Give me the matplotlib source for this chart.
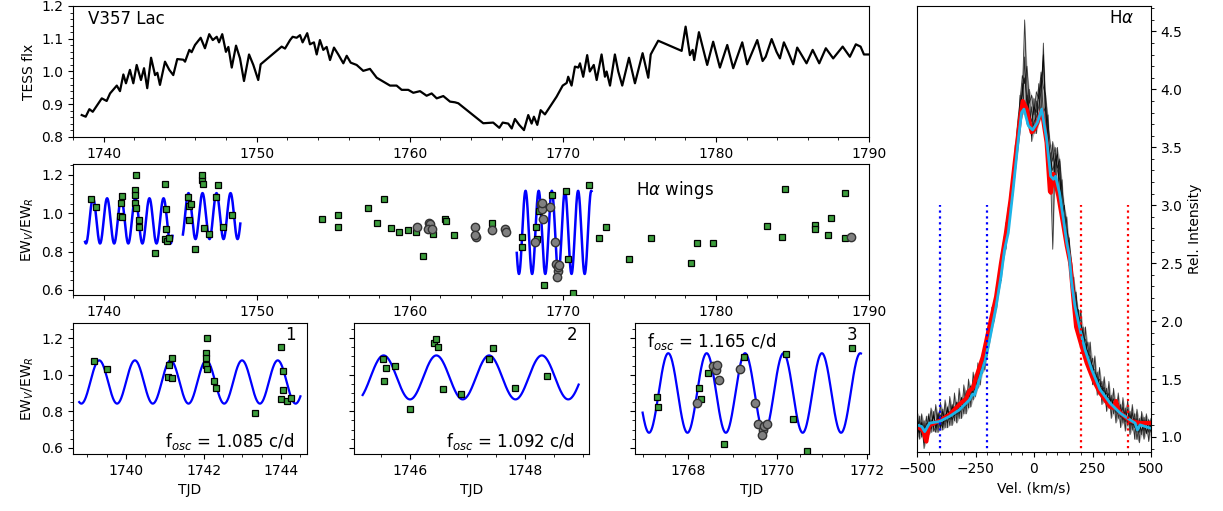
import numpy as np
import matplotlib
matplotlib.use('Agg')
import matplotlib.pyplot as plt
from matplotlib.ticker import MultipleLocator

# TESS light curve (TJD, relative flux)
lc_t = [1738.57, 1738.83, 1739.07, 1739.29, 1739.88, 1740.20, 1740.42, 1740.86, 1741.07, 1741.29,
        1741.46, 1741.72, 1741.94, 1742.16, 1742.44, 1742.64, 1742.85, 1743.10, 1743.36, 1743.51,
        1743.68, 1744.01, 1744.29, 1744.55, 1744.81, 1745.21, 1745.32, 1745.60, 1745.75, 1745.97,
        1746.34, 1746.62, 1746.90, 1747.13, 1747.39, 1747.54, 1747.75, 1747.99, 1748.15, 1748.37,
        1748.65, 1748.91, 1749.17, 1749.50, 1749.78, 1750.10, 1750.26, 1751.63, 1751.85, 1752.18,
        1752.35, 1752.61, 1752.83, 1753.00, 1753.30, 1753.48, 1753.74, 1753.92, 1754.13, 1754.35,
        1754.57, 1754.79, 1755.05, 1755.33, 1755.66, 1755.88, 1756.14, 1756.53, 1756.96, 1757.40,
        1757.84, 1758.27, 1758.71, 1759.14, 1759.47, 1759.90, 1760.23, 1760.67, 1761.10, 1761.43,
        1761.76, 1762.19, 1762.63, 1762.95, 1763.17, 1764.80, 1765.45, 1765.85, 1766.07, 1766.43,
        1766.66, 1766.87, 1767.15, 1767.46, 1767.74, 1767.96, 1768.11, 1768.33, 1768.55, 1768.83,
        1769.27, 1769.59, 1769.99, 1770.25, 1770.35, 1770.57, 1770.79, 1771.01, 1771.12, 1771.33,
        1771.59, 1771.76, 1772.02, 1772.21, 1772.53, 1772.75, 1772.86, 1773.08, 1773.40, 1773.62,
        1773.88, 1774.32, 1774.71, 1775.21, 1775.58, 1775.74, 1775.90, 1776.23, 1777.76, 1778.02,
        1778.30, 1778.48, 1778.58, 1778.89, 1779.43, 1779.82, 1780.26, 1780.74, 1781.13, 1781.72,
        1782.04, 1782.70, 1783.05, 1783.25, 1783.64, 1783.96, 1784.18, 1784.44, 1784.72, 1785.05,
        1785.31, 1785.92, 1786.32, 1786.75, 1787.18, 1787.66, 1788.28, 1788.75, 1789.14, 1789.45,
        1789.67, 1789.95]
lc_f = [0.867, 0.862, 0.885, 0.877, 0.918, 0.910, 0.933, 0.957, 0.940, 0.991,
        0.964, 1.005, 0.964, 1.020, 0.974, 1.010, 0.949, 1.042, 0.989, 0.996,
        0.959, 1.030, 1.005, 0.989, 1.038, 1.036, 1.030, 1.066, 1.059, 1.081,
        1.103, 1.071, 1.114, 1.096, 1.106, 1.089, 1.114, 1.060, 1.075, 1.012,
        1.079, 1.040, 0.971, 1.052, 1.020, 0.974, 1.022, 1.076, 1.070, 1.096,
        1.106, 1.103, 1.111, 1.089, 1.117, 1.083, 1.089, 1.052, 1.096, 1.066,
        1.075, 1.035, 1.073, 1.052, 1.025, 1.048, 1.027, 1.020, 1.002, 1.008,
        0.981, 0.969, 0.957, 0.957, 0.944, 0.944, 0.935, 0.940, 0.926, 0.933,
        0.918, 0.925, 0.908, 0.906, 0.903, 0.842, 0.844, 0.828, 0.844, 0.841,
        0.826, 0.855, 0.837, 0.821, 0.867, 0.841, 0.862, 0.837, 0.882, 0.869,
        0.900, 0.923, 0.957, 0.965, 0.984, 0.957, 1.015, 1.012, 1.025, 0.984,
        1.050, 1.000, 1.020, 0.974, 1.052, 0.984, 1.000, 0.957, 1.052, 1.000,
        0.957, 1.042, 0.964, 1.056, 0.981, 1.052, 1.066, 1.094, 1.063, 1.137,
        1.050, 1.066, 1.035, 1.120, 1.020, 1.091, 1.012, 1.081, 1.010, 1.089,
        1.022, 1.096, 1.032, 1.045, 1.099, 1.060, 1.040, 1.089, 1.060, 1.022,
        1.073, 1.025, 1.066, 1.025, 1.071, 1.040, 1.076, 1.045, 1.083, 1.076,
        1.052, 1.052]

# EW_V/EW_R of the H-alpha wings, squares, per zoomed window
sq_t1 = [1739.18, 1739.52, 1741.12, 1741.18, 1741.09, 1741.19, 1742.10, 1742.06, 1742.06, 1742.06,
         1742.10, 1742.28, 1742.31, 1743.33, 1744.00, 1744.06, 1744.06, 1744.00, 1744.16, 1744.25]
sq_v1 = [1.075, 1.031, 1.051, 1.091, 0.987, 0.980, 1.202, 1.120, 1.093, 1.051,
         1.029, 0.964, 0.929, 0.791, 1.151, 1.020, 0.915, 0.866, 0.855, 0.873]
sq_t2 = [1745.54, 1745.58, 1745.55, 1745.74, 1746.00, 1746.42, 1746.45, 1746.49, 1746.57, 1746.89,
         1747.37, 1747.45, 1747.83, 1748.38]
sq_v2 = [1.087, 1.036, 0.964, 1.046, 0.811, 1.173, 1.197, 1.151, 0.924, 0.893,
         1.087, 1.145, 0.929, 0.993]
sq_t3 = [1767.32, 1767.34, 1768.25, 1768.29, 1768.46, 1768.80, 1769.26, 1770.20, 1770.36, 1770.66, 1771.68]
sq_v3 = [0.878, 0.824, 0.929, 0.866, 1.011, 0.624, 1.096, 1.115, 0.760, 0.582, 1.145]
sq_t_other = [1754.25, 1755.33, 1755.33, 1757.29, 1758.33, 1757.84, 1758.77, 1759.31, 1759.86, 1760.41,
              1760.84, 1761.54, 1762.30, 1762.35, 1762.91, 1765.35, 1772.38, 1772.80, 1774.34, 1775.75,
              1778.35, 1778.74, 1779.82, 1783.31, 1784.51, 1784.33, 1786.47, 1786.47, 1787.51, 1787.34,
              1788.43, 1788.43]
sq_v_other = [0.970, 0.991, 0.930, 1.026, 1.075, 0.948, 0.925, 0.904, 0.913, 0.904,
              0.777, 0.893, 0.968, 0.961, 0.887, 0.948, 0.870, 0.930, 0.760, 0.870,
              0.742, 0.843, 0.843, 0.935, 1.125, 0.877, 0.939, 0.917, 0.974, 0.887,
              1.108, 0.870]

# circles
ci_t3 = [1768.20, 1768.56, 1768.62, 1768.66, 1768.70, 1769.17, 1769.50, 1769.56, 1769.67, 1769.65,
         1769.71, 1769.77]
ci_v3 = [0.848, 1.046, 1.024, 1.051, 0.969, 1.033, 0.848, 0.733, 0.696, 0.669, 0.718, 0.729]
ci_t_other = [1760.45, 1761.25, 1761.35, 1761.22, 1761.42, 1764.26, 1764.30, 1764.28, 1765.39,
              1766.22, 1766.30, 1788.82]
ci_v_other = [0.930, 0.951, 0.942, 0.918, 0.916, 0.930, 0.875, 0.887, 0.913, 0.916, 0.902, 0.878]

# sinusoid fits for the three windows
fit_freq = [1.085, 1.092, 1.165]
fit_t0 = [1741.15, 1746.46, 1769.28]
fit_mean = [0.960, 0.985, 0.900]
fit_amp = [0.118, 0.120, 0.217]
fit_start = [1738.79, 1745.18, 1766.99]
fit_end = [1744.50, 1748.93, 1771.87]
win_xlim = [(1738.63, 1744.67), (1745.03, 1749.11), (1766.82, 1772.05)]

# H-alpha profiles, individual spectra on a 10 km/s grid
vel_grid = list(range(-500, 501, 10))
spec_a = [1.16, 1.04, 1.13, 0.95, 1.02, 1.18, 1.07, 1.19, 1.10, 1.21,
          1.08, 1.22, 1.13, 1.25, 1.16, 1.27, 1.18, 1.30, 1.22, 1.34,
          1.25, 1.38, 1.31, 1.44, 1.36, 1.52, 1.50, 1.62, 1.64, 1.78,
          1.82, 1.98, 2.04, 2.18, 2.24, 2.42, 2.50, 2.70, 2.80, 2.98,
          3.08, 3.30, 3.45, 3.72, 3.90, 4.12, 4.05, 4.20, 3.88, 3.95,
          3.78, 3.98, 3.92, 4.15, 4.02, 3.95, 3.70, 3.52, 3.38, 3.50,
          3.32, 3.40, 3.12, 2.98, 2.80, 2.70, 2.52, 2.30, 2.22, 2.04,
          2.00, 1.86, 1.84, 1.72, 1.70, 1.58, 1.58, 1.47, 1.50, 1.39,
          1.43, 1.31, 1.38, 1.26, 1.33, 1.21, 1.29, 1.17, 1.26, 1.13,
          1.24, 1.10, 1.21, 1.08, 1.16, 1.04, 1.17, 1.05, 1.15, 1.04,
          1.12]
spec_b = [1.05, 1.14, 1.02, 1.10, 0.98, 1.06, 1.15, 1.09, 1.04, 1.16,
          1.12, 1.08, 1.20, 1.12, 1.22, 1.15, 1.19, 1.27, 1.20, 1.25,
          1.33, 1.27, 1.38, 1.33, 1.42, 1.40, 1.55, 1.50, 1.65, 1.70,
          1.80, 1.90, 2.02, 2.08, 2.25, 2.33, 2.52, 2.62, 2.78, 2.90,
          3.05, 3.22, 3.40, 3.62, 3.85, 3.95, 4.60, 3.98, 3.80, 3.72,
          3.85, 3.80, 3.95, 4.05, 4.25, 3.80, 3.62, 3.30, 2.62, 3.45,
          3.30, 3.22, 3.00, 2.90, 2.72, 2.62, 2.45, 2.28, 2.12, 2.06,
          1.92, 1.90, 1.77, 1.74, 1.63, 1.62, 1.52, 1.52, 1.42, 1.44,
          1.35, 1.38, 1.29, 1.33, 1.24, 1.29, 1.20, 1.25, 1.15, 1.22,
          1.12, 1.19, 1.10, 1.16, 0.98, 1.12, 1.05, 1.14, 1.03, 1.12,
          1.05]
spec_c = [1.08, 1.03, 1.12, 1.00, 1.12, 1.04, 1.10, 1.18, 1.08, 1.15,
          1.19, 1.11, 1.17, 1.23, 1.15, 1.24, 1.26, 1.19, 1.30, 1.24,
          1.31, 1.36, 1.30, 1.40, 1.45, 1.46, 1.48, 1.58, 1.60, 1.72,
          1.78, 1.88, 2.00, 2.12, 2.20, 2.35, 2.46, 2.60, 2.74, 2.88,
          3.02, 3.25, 3.38, 3.66, 3.80, 3.98, 4.10, 3.92, 3.78, 3.60,
          3.72, 3.76, 3.85, 3.98, 4.30, 3.88, 3.58, 3.40, 3.30, 3.38,
          3.44, 3.25, 3.05, 2.85, 2.76, 2.60, 2.42, 2.26, 2.15, 2.00,
          1.96, 1.84, 1.80, 1.70, 1.66, 1.60, 1.53, 1.49, 1.46, 1.40,
          1.40, 1.34, 1.34, 1.28, 1.30, 1.24, 1.26, 1.21, 1.21, 1.17,
          1.18, 1.15, 1.14, 1.13, 1.10, 1.09, 1.13, 1.08, 1.12, 1.07,
          1.10]
spec_d = [1.22, 0.98, 1.20, 0.90, 1.18, 1.02, 1.25, 1.05, 1.28, 1.04,
          1.30, 1.06, 1.32, 1.08, 1.35, 1.10, 1.38, 1.12, 1.42, 1.16,
          1.45, 1.20, 1.50, 1.26, 1.56, 1.35, 1.64, 1.45, 1.74, 1.58,
          1.92, 1.80, 2.12, 2.00, 2.32, 2.25, 2.58, 2.52, 2.85, 2.80,
          3.15, 3.10, 3.52, 3.50, 3.95, 3.78, 4.28, 3.70, 4.00, 3.55,
          3.92, 3.62, 4.05, 3.75, 4.40, 3.60, 3.78, 3.20, 3.55, 3.18,
          3.50, 3.05, 3.22, 2.75, 2.90, 2.48, 2.52, 2.10, 2.25, 1.90,
          2.10, 1.72, 1.95, 1.58, 1.82, 1.45, 1.70, 1.36, 1.60, 1.28,
          1.52, 1.22, 1.48, 1.16, 1.42, 1.12, 1.38, 1.08, 1.34, 1.05,
          1.32, 1.02, 1.28, 0.98, 1.24, 0.95, 1.22, 0.98, 1.20, 0.96,
          1.16]
spec_e = [1.02, 1.18, 1.00, 1.14, 0.96, 1.20, 1.04, 1.22, 1.06, 1.20,
          1.06, 1.24, 1.08, 1.26, 1.10, 1.28, 1.14, 1.30, 1.16, 1.34,
          1.20, 1.40, 1.25, 1.44, 1.32, 1.52, 1.42, 1.60, 1.55, 1.76,
          1.70, 1.95, 1.92, 2.15, 2.10, 2.38, 2.35, 2.66, 2.62, 2.92,
          2.95, 3.30, 3.35, 3.70, 3.70, 4.05, 3.80, 3.95, 3.65, 3.85,
          3.62, 3.90, 3.70, 4.10, 3.80, 3.85, 3.50, 3.45, 3.15, 3.40,
          3.12, 3.38, 2.90, 3.00, 2.62, 2.72, 2.30, 2.38, 2.02, 2.10,
          1.85, 1.95, 1.70, 1.82, 1.58, 1.68, 1.46, 1.56, 1.38, 1.48,
          1.30, 1.42, 1.26, 1.36, 1.20, 1.32, 1.16, 1.28, 1.12, 1.25,
          1.10, 1.22, 1.06, 1.20, 1.04, 1.16, 1.02, 1.17, 1.03, 1.15,
          1.04]

red_v = [-500, -475, -460, -448, -404, -362, -319, -290, -276, -262, -248, -219, -191, -162, -141, -120,
         -100, -81, -60, -48, -31, -10, 4, 33, 54, 68, 72, 83, 104, 126, 140, 155, 169, 180, 204, 225,
         254, 282, 325, 340, 350, 360, 368, 410, 453, 499]
red_i = [1.09, 1.06, 0.96, 1.10, 1.14, 1.19, 1.28, 1.33, 1.40, 1.42, 1.51, 1.69, 1.95, 2.21, 2.50, 2.76,
         3.05, 3.39, 3.74, 3.90, 3.83, 3.63, 3.66, 3.82, 3.54, 3.12, 3.108, 3.27, 3.08, 2.82, 2.65, 2.50,
         2.18, 1.95, 1.78, 1.64, 1.49, 1.38, 1.26, 1.25, 1.31, 1.24, 1.21, 1.14, 1.12, 1.12]
cyan_v = [-500, -480, -467, -446, -404, -362, -319, -276, -262, -255, -245, -234, -208, -184, -162, -141,
          -126, -110, -89, -67, -53, -43, -24, -6, 14, 33, 54, 71, 83, 92, 109, 126, 140, 151, 161, 175,
          197, 218, 247, 282, 325, 368, 410, 432, 442, 453, 499]
cyan_i = [1.104, 1.09, 1.046, 1.12, 1.133, 1.176, 1.234, 1.32, 1.37, 1.36, 1.42, 1.493, 1.666, 1.897, 2.127,
          2.386, 2.617, 2.762, 3.137, 3.569, 3.80, 3.83, 3.686, 3.65, 3.713, 3.83, 3.569, 3.252, 3.224, 3.25,
          3.108, 2.878, 2.677, 2.56, 2.33, 2.128, 1.926, 1.754, 1.58, 1.41, 1.292, 1.206, 1.148, 1.12, 1.06,
          1.104, 1.075]

SQ_COLOR = '#3c9c3c'
W, H = 1223, 511


def box(left, top, right, bottom):
    return [left / W, 1 - bottom / H, (right - left) / W, (bottom - top) / H]


def sine_fit(k):
    t = np.linspace(fit_start[k], fit_end[k], 500)
    return t, fit_mean[k] + fit_amp[k] * np.cos(2 * np.pi * fit_freq[k] * (t - fit_t0[k]))


def draw_points(ax, sq_t, sq_v, ci_t, ci_v):
    ax.plot(sq_t, sq_v, 's', ms=4, mfc=SQ_COLOR, mec='k', mew=0.9, zorder=3)
    if ci_t:
        ax.plot(ci_t, ci_v, 'o', ms=6, mfc='#808080', mec='#333333', mew=1.0, zorder=3)


fig = plt.figure(figsize=(12.23, 5.11), dpi=100)

# light curve
ax_lc = fig.add_axes(box(73, 6, 869, 137))
ax_lc.plot(lc_t, lc_f, color='k', lw=1.6)
ax_lc.set_xlim(1738, 1790)
ax_lc.set_ylim(0.8, 1.2)
ax_lc.xaxis.set_major_locator(MultipleLocator(10))
ax_lc.xaxis.set_minor_locator(MultipleLocator(2))
ax_lc.yaxis.set_major_locator(MultipleLocator(0.1))
ax_lc.yaxis.set_minor_locator(MultipleLocator(0.02))
ax_lc.set_ylabel('TESS flx')
ax_lc.text(0.019, 0.90, 'V357 Lac', transform=ax_lc.transAxes, fontsize=12, va='center')

# EW ratio over whole run
ax_ew = fig.add_axes(box(73, 164, 869, 295))
for k in range(3):
    t, y = sine_fit(k)
    ax_ew.plot(t, y, color='blue', lw=1.8, zorder=2)
draw_points(ax_ew, sq_t1 + sq_t2 + sq_t3 + sq_t_other, sq_v1 + sq_v2 + sq_v3 + sq_v_other,
            ci_t3 + ci_t_other, ci_v3 + ci_v_other)
ax_ew.set_xlim(1738, 1790)
ax_ew.set_ylim(0.573, 1.257)
ax_ew.xaxis.set_major_locator(MultipleLocator(10))
ax_ew.xaxis.set_minor_locator(MultipleLocator(2))
ax_ew.yaxis.set_major_locator(MultipleLocator(0.2))
ax_ew.yaxis.set_minor_locator(MultipleLocator(0.05))
ax_ew.set_ylabel('EW$_V$/EW$_R$')
ax_ew.text(0.707, 0.80, r'H$\alpha$ wings', transform=ax_ew.transAxes, fontsize=12, va='center')

# zoomed windows
win_boxes = [box(73, 323, 307, 454), box(354, 323, 589, 454), box(635, 323, 869, 454)]
win_sq = [(sq_t1, sq_v1), (sq_t2, sq_v2), (sq_t3, sq_v3)]
win_ci = [([], []), ([], []), (ci_t3, ci_v3)]
win_text = [(0.945, 0.094, 'right', 'f$_{osc}$ = 1.085 c/d'),
            (0.940, 0.094, 'right', 'f$_{osc}$ = 1.092 c/d'),
            (0.050, 0.857, 'left', 'f$_{osc}$ = 1.165 c/d')]
for k in range(3):
    ax = fig.add_axes(win_boxes[k])
    t, y = sine_fit(k)
    ax.plot(t, y, color='blue', lw=1.6, zorder=2)
    draw_points(ax, win_sq[k][0], win_sq[k][1], win_ci[k][0], win_ci[k][1])
    ax.set_xlim(*win_xlim[k])
    ax.set_ylim(0.567, 1.282)
    ax.xaxis.set_major_locator(MultipleLocator(2))
    ax.xaxis.set_minor_locator(MultipleLocator(0.5))
    ax.yaxis.set_major_locator(MultipleLocator(0.2))
    ax.yaxis.set_minor_locator(MultipleLocator(0.05))
    ax.set_xlabel('TJD')
    tx, ty, ha, label = win_text[k]
    ax.text(tx, ty, label, transform=ax.transAxes, fontsize=12, ha=ha, va='center')
    ax.text(0.95, 0.905, str(k + 1), transform=ax.transAxes, fontsize=12, ha='right', va='center')
    if k == 0:
        ax.set_ylabel('EW$_V$/EW$_R$')
    else:
        ax.tick_params(labelleft=False)

# H-alpha profiles
ax_sp = fig.add_axes(box(917, 6, 1151, 452))
spectra = [spec_a, spec_b, spec_c, spec_d, spec_e]
ax_sp.fill_between(vel_grid, np.min(spectra, axis=0), np.max(spectra, axis=0), color='k', alpha=0.3, lw=0)
for s in spectra:
    ax_sp.plot(vel_grid, s, color='k', lw=0.6, alpha=0.75)
ax_sp.plot(red_v, red_i, color='red', lw=3)
ax_sp.plot(cyan_v, cyan_i, color='#1cb4e8', lw=2)
ax_sp.vlines([-400, -200], 0.8, 3.0, colors='blue', linestyles=':', lw=1.6)
ax_sp.vlines([200, 400], 0.8, 3.0, colors='red', linestyles=':', lw=1.6)
ax_sp.set_xlim(-500, 500)
ax_sp.set_ylim(0.87, 4.72)
ax_sp.xaxis.set_major_locator(MultipleLocator(250))
ax_sp.xaxis.set_minor_locator(MultipleLocator(50))
ax_sp.yaxis.set_major_locator(MultipleLocator(0.5))
ax_sp.yaxis.set_minor_locator(MultipleLocator(0.1))
ax_sp.yaxis.tick_right()
ax_sp.yaxis.set_label_position('right')
ax_sp.set_xlabel('Vel. (km/s)')
ax_sp.set_ylabel('Rel. Intensity')
ax_sp.text(0.93, 0.972, r'H$\alpha$', transform=ax_sp.transAxes, fontsize=12, ha='right', va='center')

fig.savefig('out.png', dpi=100)
